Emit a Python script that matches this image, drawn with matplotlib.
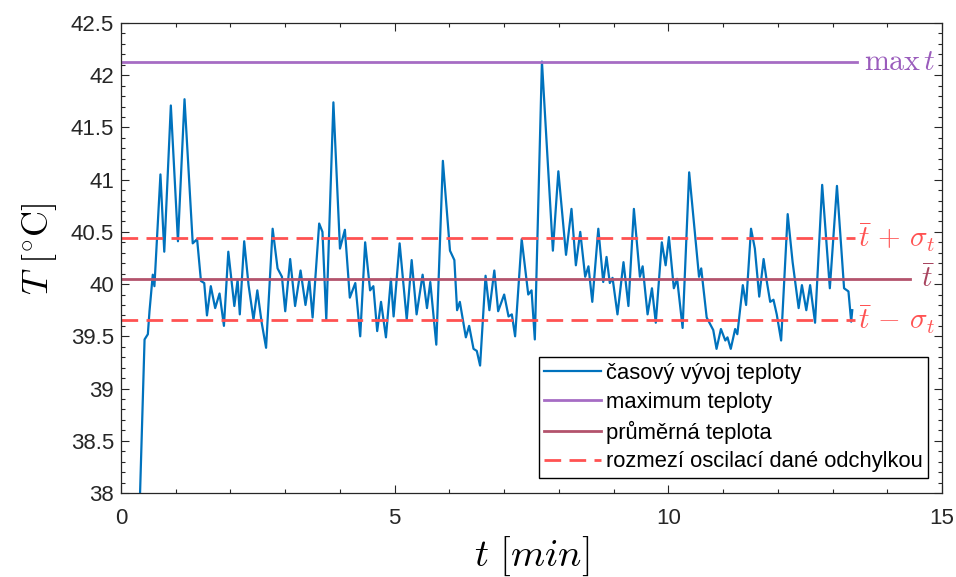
import matplotlib
matplotlib.use("Agg")
import matplotlib.pyplot as plt
from matplotlib.ticker import FuncFormatter, MultipleLocator

# time [min] and temperature [degC]
time_min = [
    0.29, 0.35, 0.40, 0.43, 0.49, 0.52, 0.58, 0.61, 0.72, 0.79, 0.91, 1.04,
    1.16, 1.31, 1.39, 1.46, 1.52, 1.57, 1.64, 1.72, 1.80, 1.88, 1.96, 2.07,
    2.13, 2.17, 2.25, 2.33, 2.42, 2.49, 2.57, 2.65, 2.77, 2.86, 2.94, 3.00,
    3.09, 3.18, 3.28, 3.37, 3.44, 3.50, 3.62, 3.68, 3.75, 3.88, 4.00, 4.09,
    4.18, 4.28, 4.37, 4.46, 4.55, 4.61, 4.68, 4.75, 4.84, 4.93, 4.98, 5.09,
    5.22, 5.31, 5.40, 5.51, 5.59, 5.65, 5.76, 5.88, 6.01, 6.09, 6.14, 6.19,
    6.30, 6.36, 6.44, 6.50, 6.56, 6.66, 6.73, 6.82, 6.89, 7.00, 7.08, 7.14,
    7.20, 7.32, 7.44, 7.50, 7.56, 7.69, 7.89, 7.99, 8.13, 8.23, 8.31, 8.39,
    8.48, 8.54, 8.61, 8.72, 8.81, 8.87, 8.93, 8.98, 9.07, 9.18, 9.27, 9.37,
    9.48, 9.53, 9.62, 9.70, 9.77, 9.88, 9.95, 10.01, 10.10, 10.16, 10.26,
    10.38, 10.56, 10.60, 10.70, 10.75, 10.82, 10.88, 10.96, 11.04, 11.08,
    11.14, 11.22, 11.26, 11.36, 11.42, 11.51, 11.58, 11.66, 11.74, 11.80,
    11.86, 11.92, 11.98, 12.06, 12.18, 12.27, 12.38, 12.44, 12.52, 12.59,
    12.68, 12.81, 12.95, 13.08, 13.21, 13.29, 13.34, 13.36,
]
temp = [
    37.00, 38.04, 38.95, 39.47, 39.52, 39.74, 40.09, 39.98, 41.05, 40.31, 41.71, 40.41,
    41.77, 40.39, 40.43, 40.03, 40.01, 39.70, 39.98, 39.77, 39.91, 39.60, 40.31, 39.79,
    40.04, 39.71, 40.41, 39.99, 39.66, 39.94, 39.63, 39.39, 40.53, 40.15, 40.07, 39.74,
    40.24, 39.79, 40.13, 39.80, 40.04, 39.68, 40.58, 40.50, 39.66, 41.74, 40.34, 40.52,
    39.87, 40.01, 39.50, 40.40, 39.94, 39.98, 39.55, 39.83, 39.49, 40.05, 39.69, 40.39,
    39.66, 40.23, 39.71, 40.09, 39.77, 40.02, 39.42, 41.18, 40.32, 40.23, 39.75, 39.83,
    39.49, 39.60, 39.38, 39.36, 39.22, 40.08, 39.75, 40.13, 39.74, 39.90, 39.69, 39.71,
    39.50, 40.43, 39.90, 39.94, 39.47, 42.13, 40.32, 41.08, 40.28, 40.72, 40.18, 40.50,
    40.07, 40.17, 39.83, 40.53, 40.02, 40.26, 40.01, 40.06, 39.71, 40.21, 39.79, 40.72,
    40.07, 40.17, 39.71, 39.96, 39.63, 40.40, 40.18, 40.45, 39.96, 40.05, 39.58,
    41.07, 40.07, 40.15, 39.68, 39.63, 39.56, 39.38, 39.57, 39.46, 39.49,
    39.38, 39.57, 39.52, 39.99, 39.80, 40.53, 40.34, 39.88, 40.24, 40.02,
    39.83, 39.85, 39.71, 39.46, 40.67, 40.21, 39.77, 39.99, 39.75, 39.99,
    39.63, 40.95, 39.96, 40.94, 39.96, 39.93, 39.64, 39.75,
]
t_max = 42.13
t_mean = 40.05
t_std = 0.39

legend_labels = [
    "časový vývoj teploty",
    "maximum teploty",
    "průměrná teplota",
    "rozmezí oscilací dané odchylkou",
]

blue = "#0072BD"
purple = "#A66CC4"
wine = "#B3536C"
red = "#FF5252"
dark = "#262626"

plt.rcParams["mathtext.fontset"] = "cm"
plt.rcParams["font.family"] = ["Liberation Sans", "DejaVu Sans"]

fig = plt.figure(figsize=(9.56, 5.77), dpi=100)
ax = fig.add_axes([0.1266, 0.1456, 0.8588, 0.8146])

ax.plot(time_min, temp, color=blue, lw=1.6, label=legend_labels[0])
ax.axhline(t_max, xmax=0.8965, color=purple, lw=2, label=legend_labels[1])
ax.axhline(t_mean, xmax=0.961, color=wine, lw=2, label=legend_labels[2])
ax.axhline(t_mean + t_std, xmax=0.894, color=red, lw=2, ls=(0, (6, 3)),
           label=legend_labels[3])
ax.axhline(t_mean - t_std, xmax=0.894, color=red, lw=2, ls=(0, (6, 3)))

# line labels at the right end, like yline labels
lx = 14.88
ax.text(lx, t_max, r"$\max\,t$", color="#9A5CBC", fontsize=21.5, ha="right", va="center")
ax.text(lx, t_mean + t_std, r"$\bar{t}\,+\,\sigma_t$", color=red, fontsize=21,
        ha="right", va="center")
ax.text(lx, t_mean, r"$\bar{t}$", color="#A8445F", fontsize=21, ha="right", va="center")
ax.text(lx, t_mean - t_std, r"$\bar{t}\,-\,\sigma_t$", color=red, fontsize=21,
        ha="right", va="center")

ax.set_xlim(0, 15)
ax.set_ylim(38, 42.5)
ax.xaxis.set_major_locator(MultipleLocator(5))
ax.xaxis.set_minor_locator(MultipleLocator(1))
ax.yaxis.set_major_locator(MultipleLocator(0.5))
ax.yaxis.set_minor_locator(MultipleLocator(0.1))
ax.yaxis.set_major_formatter(FuncFormatter(lambda v, _: f"{v:g}"))
ax.tick_params(which="both", direction="in", top=True, right=True, color=dark,
               labelcolor=dark, labelsize=16, width=0.8)
ax.tick_params(which="major", length=6)
ax.tick_params(which="minor", length=3)
ax.tick_params(axis="x", which="major", pad=11)
ax.tick_params(axis="y", which="major", pad=5)
for s in ax.spines.values():
    s.set_color(dark)
    s.set_linewidth(0.9)

ax.set_xlabel(r"$t\ [min]$", fontsize=28, labelpad=4)
ax.set_ylabel(r"$T\ [^{\circ}\mathrm{C}]$", fontsize=26)
ax.yaxis.set_label_coords(-0.075, 0.52)

leg = ax.legend(loc="lower right", bbox_to_anchor=(0.983, 0.032), borderaxespad=0,
                fontsize=15.8, handlelength=2.6, labelspacing=0.36,
                fancybox=False, edgecolor="black", framealpha=1,
                handletextpad=0.2, borderpad=0.25)
leg.get_frame().set_linewidth(1.0)

fig.savefig("out.png", dpi=100)
